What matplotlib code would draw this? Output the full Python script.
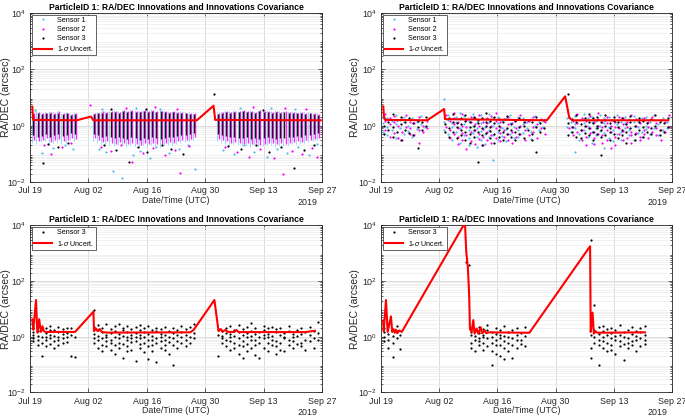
import numpy as np
import matplotlib.pyplot as plt
from matplotlib.ticker import LogLocator, NullFormatter

plt.rcParams['font.family'] = ['Liberation Sans', 'DejaVu Sans']
plt.rcParams['mathtext.fontset'] = 'custom'
plt.rcParams['mathtext.rm'] = 'Liberation Sans'
plt.rcParams['mathtext.it'] = 'Liberation Sans:italic'

# x axis: days since 2019-07-19 00:00 UTC
tick_days = [0, 14, 28, 42, 56, 70]
tick_labels = ['Jul 19', 'Aug 02', 'Aug 16', 'Aug 30', 'Sep 13', 'Sep 27']
title = 'ParticleID 1: RA/DEC Innovations and Innovations Covariance'
sensor_names = ['Sensor 1', 'Sensor 2', 'Sensor 3']
sensor_colors = ['#4DBEEE', '#FF00FF', 'black']
sensor_dt = [-0.25, 0.25, 0.0]  # time of each sensor's pass within the night (days)

# nightly passes (days)
days_a = [0.8, 1.8, 2.8, 3.8, 4.8, 5.8, 6.8, 7.8, 8.8, 9.8, 10.8]
days_b = [15.3, 16.3, 17.3, 18.3, 19.3, 20.3, 21.3, 22.3, 23.3, 24.3, 25.3, 26.3, 27.3,
          28.3, 29.3, 30.3, 31.3, 32.3, 33.3, 34.3, 35.3, 36.3, 37.3, 38.3, 39.3]
days_c = [45.0, 46.0, 47.0, 48.0, 49.0, 50.0, 51.0, 52.0, 53.0, 54.0, 55.0, 56.0, 57.0,
          58.0, 59.0, 60.0, 61.0, 62.0, 63.0, 64.0, 65.0, 66.0, 67.0, 68.0, 69.0]
pass_days = days_a + days_b + days_c

# ---- panel 1: dense passes, per-pass spread (low/high) for each sensor ----
p1_lo = [
    [0.25, 0.22, 0.26, 0.28, 0.21, 0.24, 0.27, 0.23, 0.25, 0.3, 0.28,
     0.28, 0.25, 0.22, 0.23, 0.2, 0.19, 0.21, 0.2, 0.18, 0.2, 0.19, 0.17, 0.2, 0.18, 0.2,
     0.19, 0.18, 0.2, 0.21, 0.2, 0.23, 0.25, 0.26, 0.28, 0.3,
     0.28, 0.25, 0.23, 0.2, 0.22, 0.2, 0.19, 0.21, 0.18, 0.2, 0.17, 0.19, 0.21, 0.2, 0.18,
     0.21, 0.19, 0.21, 0.22, 0.23, 0.22, 0.25, 0.26, 0.28, 0.3],
    [0.3, 0.28, 0.32, 0.35, 0.27, 0.3, 0.33, 0.29, 0.31, 0.36, 0.34,
     0.35, 0.3, 0.27, 0.28, 0.25, 0.23, 0.26, 0.24, 0.22, 0.25, 0.23, 0.21, 0.24, 0.22, 0.25,
     0.23, 0.22, 0.24, 0.26, 0.25, 0.28, 0.3, 0.32, 0.34, 0.38,
     0.34, 0.3, 0.28, 0.25, 0.27, 0.24, 0.23, 0.25, 0.22, 0.24, 0.21, 0.23, 0.25, 0.24, 0.22,
     0.25, 0.23, 0.25, 0.27, 0.28, 0.27, 0.3, 0.32, 0.34, 0.37],
    [0.45, 0.4, 0.42, 0.5, 0.38, 0.45, 0.5, 0.42, 0.48, 0.55, 0.5,
     0.5, 0.45, 0.4, 0.42, 0.38, 0.35, 0.4, 0.36, 0.33, 0.38, 0.35, 0.32, 0.36, 0.34, 0.38,
     0.35, 0.33, 0.37, 0.4, 0.38, 0.42, 0.45, 0.48, 0.5, 0.55,
     0.5, 0.45, 0.42, 0.38, 0.4, 0.36, 0.35, 0.38, 0.34, 0.36, 0.33, 0.35, 0.38, 0.36, 0.34,
     0.37, 0.35, 0.38, 0.4, 0.42, 0.4, 0.45, 0.48, 0.5, 0.55],
]
p1_hi = [
    [3.0, 3.3, 2.9, 3.1, 3.2, 3.0, 3.4, 2.9, 3.1, 2.8, 3.0,
     2.9, 3.1, 3.4, 3.2, 3.5, 3.6, 3.3, 3.7, 3.5, 3.8, 3.6, 3.4, 3.7, 3.5, 3.9,
     3.4, 3.6, 3.5, 3.3, 3.4, 3.2, 3.3, 3.1, 3.0, 2.9,
     3.0, 3.2, 3.5, 3.3, 3.6, 3.4, 3.7, 3.4, 3.6, 3.3, 3.7, 3.4, 3.6, 3.3, 3.5,
     3.2, 3.4, 3.3, 3.2, 3.1, 3.3, 3.0, 3.1, 2.9, 2.8],
    [2.8, 3.1, 2.7, 2.9, 3.0, 2.8, 3.2, 2.7, 2.9, 2.6, 2.8,
     2.7, 2.9, 3.2, 3.0, 3.3, 3.4, 3.1, 3.5, 3.3, 3.6, 3.4, 3.2, 3.5, 3.3, 3.7,
     3.2, 3.4, 3.3, 3.1, 3.2, 3.0, 3.1, 2.9, 2.8, 2.7,
     2.8, 3.0, 3.3, 3.1, 3.4, 3.2, 3.5, 3.2, 3.4, 3.1, 3.5, 3.2, 3.4, 3.1, 3.3,
     3.0, 3.2, 3.1, 3.0, 2.9, 3.1, 2.8, 2.9, 2.7, 2.6],
    [2.6, 2.9, 2.5, 2.7, 2.8, 2.6, 2.9, 2.5, 2.7, 2.4, 2.6,
     2.5, 2.7, 2.9, 2.8, 3.0, 3.1, 2.9, 3.2, 3.0, 3.3, 3.1, 3.0, 3.2, 3.1, 3.4,
     3.0, 3.2, 3.1, 2.9, 3.0, 2.8, 2.9, 2.7, 2.6, 2.5,
     2.6, 2.8, 3.0, 2.9, 3.1, 3.0, 3.2, 3.0, 3.1, 2.9, 3.2, 3.0, 3.1, 2.9, 3.0,
     2.8, 3.0, 2.9, 2.8, 2.7, 2.9, 2.6, 2.7, 2.5, 2.4],
]
# scattered points outside the dense part of the passes (day, value)
p1_out = [
    [(2.8, 0.11), (5.5, 0.16), (8.3, 0.2), (10.2, 0.15), (1.3, 3.6), (16.5, 0.15), (18.2, 0.12),
     (20.0, 0.024), (22.0, 0.014), (24.8, 0.09), (26.3, 0.13), (28.7, 0.07), (30.1, 0.18),
     (33.4, 0.11), (35.6, 0.15), (37.9, 0.2), (39.5, 0.028), (17.3, 4.0), (25.5, 4.2),
     (31.2, 3.9), (46.3, 0.14), (48.9, 0.1), (51.2, 0.2), (53.7, 0.12), (56.8, 0.08),
     (59.1, 0.15), (61.6, 0.11), (64.3, 0.18), (66.9, 0.09), (68.7, 0.22), (50.3, 4.1),
     (57.7, 4.3), (63.5, 3.8)],
    [(3.4, 0.2), (5.0, 0.1), (7.6, 0.18), (9.9, 0.25), (14.5, 5.5), (16.9, 0.17), (19.4, 0.13),
     (21.8, 0.2), (24.4, 0.05), (27.2, 0.11), (29.5, 0.16), (32.3, 0.09), (34.8, 0.14),
     (36.0, 0.021), (38.2, 0.19), (23.1, 4.4), (29.9, 4.6), (35.3, 4.0), (46.8, 0.17),
     (49.6, 0.12), (52.4, 0.08), (55.2, 0.15), (58.4, 0.07), (60.7, 0.02), (62.9, 0.13),
     (65.3, 0.1), (67.5, 0.16), (68.8, 0.08), (53.5, 4.5), (61.2, 4.2), (66.1, 3.9)],
    [(3.2, 0.047), (4.4, 0.22), (6.6, 0.17), (9.1, 0.24), (17.8, 0.2), (20.6, 0.14),
     (23.7, 0.053), (25.9, 0.17), (28.1, 0.12), (31.6, 0.21), (33.9, 0.15), (36.7, 0.1),
     (44.0, 13.6), (47.5, 0.19), (50.6, 0.15), (54.1, 0.2), (57.3, 0.12), (60.2, 0.17),
     (63.2, 0.032), (65.8, 0.14), (68.1, 0.2), (19.5, 3.8), (27.7, 4.0), (55.9, 3.7)],
]
p1_sig_t = [0.55, 0.75, 11.2, 14.6, 15.2, 40.0, 44.0, 44.4, 69.7]
p1_sig = [4.7, 1.6, 1.55, 2.1, 1.55, 1.55, 5.1, 1.6, 1.55]

# ---- panel 2: values per pass for each sensor ----
p2_vals = [
    [[1.2, 0.6, 2.1], [0.9, 1.8, 0.45], [1.5, 0.7], [2.4, 1.1, 0.35], [0.8, 1.6], [1.3, 0.5, 2.0],
     [1.0, 0.65], [1.9, 0.4], [0.75, 1.4], [1.1, 2.2], [0.9],
     [8.8, 1.3, 0.7], [1.6, 0.5, 2.3], [0.9, 1.2, 0.3], [2.0, 0.6, 1.4], [0.8, 0.25, 1.7, 2.8],
     [1.1, 0.45, 2.2], [0.7, 1.5, 0.35, 0.2], [1.9, 0.55, 1.0, 2.6], [0.4, 1.3, 0.18, 0.8],
     [2.3, 0.65, 1.2, 0.3], [0.9, 0.5, 1.7, 0.22], [1.4, 0.38, 2.5, 0.7], [0.06, 1.0, 0.45, 1.8],
     [0.6, 2.1, 0.3, 1.2], [1.5, 0.42, 0.85], [0.75, 1.9, 0.28], [1.2, 0.5, 2.4], [0.9, 0.35, 1.6],
     [2.0, 0.7, 0.4], [1.1, 0.55, 1.8], [0.8, 1.4], [1.7, 0.6, 0.33], [1.0, 2.2], [0.7, 1.3],
     [1.5, 0.9],
     [1.8, 0.9], [1.4, 0.6], [0.12, 2.2, 0.8, 1.1], [0.5, 1.6, 0.3], [1.2, 0.7, 2.5],
     [0.4, 1.9, 0.95], [1.3, 0.25, 0.6, 2.1], [0.8, 1.5, 0.45], [2.4, 0.65, 1.0],
     [0.16, 1.2, 0.55, 1.8], [0.9, 0.35, 2.0], [1.6, 0.7, 0.28], [1.1, 2.3, 0.5], [0.6, 1.4, 0.32],
     [2.0, 0.85, 1.2], [0.45, 1.7, 0.7], [1.3, 0.3, 2.2], [0.9, 1.5, 0.55], [1.8, 0.6, 0.4],
     [1.0, 2.1, 0.75], [0.5, 1.3], [1.6, 0.8, 2.4], [1.1, 0.45], [1.9, 0.7], [0.85, 1.4]],
    [[0.7, 1.5, 2.6], [1.1, 0.4, 1.9], [0.55, 2.2, 1.3], [0.35, 1.0], [1.7, 0.6, 0.3], [0.9, 2.3],
     [0.5, 1.4, 0.8], [1.2, 0.45], [2.0, 0.7, 0.25], [1.0, 0.6], [1.5, 0.8],
     [2.4, 0.9], [0.7, 1.5, 0.35], [1.8, 0.5, 1.1, 2.9], [0.4, 1.3, 0.8, 0.22],
     [1.0, 2.6, 0.55, 0.3], [0.45, 1.6, 0.9, 0.15], [2.1, 0.6, 0.28, 1.3], [0.23, 1.1, 0.7, 1.9],
     [0.5, 2.4, 0.33, 1.0], [1.4, 0.4, 0.75, 0.2], [0.6, 1.8, 0.3, 1.2], [1.0, 0.45, 2.2, 0.25],
     [0.35, 1.5, 0.8, 2.7], [0.9, 0.28, 1.3, 0.55], [1.7, 0.4, 0.7], [0.5, 2.0, 0.32, 1.1],
     [1.2, 0.6, 0.25], [0.4, 1.6, 0.85], [2.3, 0.5, 1.0], [0.7, 1.3, 0.3], [1.5, 0.45],
     [0.6, 2.0, 0.9], [1.1, 0.35], [0.8, 1.7], [1.3, 0.5],
     [0.8, 2.0], [1.5, 0.45, 0.9], [0.6, 1.2, 2.6], [0.3, 1.8, 0.7], [1.0, 0.4, 1.5, 0.2],
     [2.2, 0.55, 0.85], [0.35, 1.3, 0.6, 0.22], [1.7, 0.5, 1.0, 2.8], [0.45, 0.9, 0.25, 1.4],
     [1.2, 0.3, 2.1, 0.7], [0.16, 0.6, 1.6, 1.0], [0.9, 0.4, 1.3, 0.2], [2.0, 0.5, 0.8],
     [0.3, 1.1, 0.65, 1.9], [1.4, 0.35, 0.9], [0.6, 2.3, 0.45, 0.25], [1.0, 0.55, 1.7],
     [0.4, 1.2, 0.3], [1.8, 0.7, 0.5], [0.9, 1.4, 0.35], [0.6, 2.0], [1.2, 0.45, 0.8],
     [0.7, 1.6, 0.3], [1.4, 0.6], [2.4, 0.9]],
    [[1.0, 1.9, 0.5], [1.4, 0.7], [0.9, 2.5, 0.4], [1.6, 0.6], [1.1, 0.3, 2.0], [0.7, 1.3],
     [1.8, 0.55], [0.45, 1.2], [0.16, 0.9, 1.5], [1.3, 0.7], [2.0, 1.0],
     [1.1, 0.6], [1.9, 0.8, 0.4], [0.6, 1.4, 2.5], [1.2, 0.35, 0.9], [0.7, 1.8, 0.45, 1.1],
     [1.5, 0.6, 0.3, 2.4], [0.9, 1.3, 0.5, 0.25], [1.0, 0.4, 2.0, 0.7], [0.05, 0.6, 1.6, 1.2],
     [1.9, 0.8, 0.45, 0.2], [0.55, 1.3, 1.0, 2.7], [0.9, 0.35, 1.5, 0.65], [1.2, 0.5, 0.25, 2.1],
     [0.7, 1.7, 0.4, 1.0], [1.4, 0.6, 0.3], [0.85, 2.2, 0.5], [1.1, 0.4, 0.7], [0.6, 1.5, 0.3],
     [1.8, 0.9, 0.5], [1.0, 0.35, 1.3], [0.7, 1.6], [1.3, 0.5, 0.3], [0.9, 2.0, 0.12],
     [0.6, 1.2], [1.6, 0.8],
     [13.0, 0.48, 1.2], [0.9, 1.7, 0.6], [1.3, 0.4, 2.3], [0.7, 1.1, 0.35], [1.9, 0.55, 1.0],
     [0.45, 1.4, 0.8, 2.6], [1.2, 0.3, 0.6, 1.8], [0.8, 2.1, 0.5, 1.0], [0.094, 1.3, 0.7, 0.4],
     [1.6, 0.45, 1.0, 2.4], [0.6, 1.2, 0.3, 0.85], [1.5, 0.5, 2.0], [0.9, 0.35, 1.3],
     [0.7, 1.8, 0.45], [1.1, 0.6, 0.25], [2.2, 0.8, 1.4], [0.5, 1.0, 0.3], [1.3, 0.7, 1.9],
     [0.9, 0.4, 1.5], [0.6, 1.2], [1.7, 0.8, 0.5], [1.0, 2.3], [0.7, 1.4, 0.45], [1.2, 0.6],
     [0.9, 1.8]],
]
p2_sig_t = [0.55, 0.7, 1.0, 11.1, 15.2, 15.4, 39.9, 44.3, 45.3, 46.0, 69.1]
p2_sig = [4.8, 2.1, 1.6, 1.55, 3.9, 1.7, 1.55, 11.0, 1.9, 1.55, 1.55]

# ---- panel 3: sensor 3 only ----
p3_vals = [
    [1.2, 0.7, 2.0, 0.9, 1.5], [0.8, 1.6, 0.5, 2.3, 1.1], [0.21, 1.0, 1.9, 0.6],
    [1.4, 0.75, 2.1, 0.45, 1.0], [0.9, 1.7, 0.55, 1.2, 2.4], [1.1, 0.4, 1.8, 0.7],
    [1.5, 0.8, 2.2, 0.5, 1.0], [0.6, 1.3, 1.9, 0.9], [2.1, 1.0, 0.65, 1.4], [0.2, 1.2, 2.0],
    [0.19, 1.0],
    [9.2, 1.3, 0.6, 2.2, 0.9], [0.8, 1.7, 0.4, 1.1, 2.6], [1.5, 0.5, 0.9, 2.0, 0.3],
    [0.7, 1.2, 2.8, 0.45, 1.0], [1.9, 0.35, 0.8, 1.4, 0.6], [1.0, 2.4, 0.5, 1.6, 0.25],
    [0.6, 1.3, 0.9, 3.0, 0.4], [1.7, 0.17, 1.1, 0.55, 2.1], [0.45, 1.5, 0.8, 2.5, 1.0, 0.3],
    [1.2, 0.65, 1.9, 0.35, 0.9], [0.13, 1.4, 0.7, 2.2, 1.0], [0.9, 1.8, 0.4, 1.2, 0.55, 2.7],
    [1.5, 0.6, 0.28, 1.0, 2.0], [0.75, 1.3, 2.4, 0.45, 0.16], [1.1, 0.5, 1.7, 0.8, 0.3],
    [0.12, 1.6, 0.9, 2.1, 0.6], [1.3, 0.4, 0.7, 1.9, 1.0], [0.8, 2.3, 0.5, 1.2, 0.35],
    [1.6, 0.65, 1.0, 0.25], [0.1, 0.9, 1.4, 0.5, 2.0], [1.2, 0.7, 1.8, 0.4],
    [0.6, 1.5, 1.0, 2.4], [1.9, 0.8, 0.45, 1.2], [1.0, 2.2, 0.6], [1.4, 2.9, 0.9],
    [0.2, 1.2, 1.9], [0.9, 1.6, 0.6, 1.1], [1.4, 0.45, 2.1, 0.8], [0.7, 1.3, 0.35, 1.0, 2.4],
    [1.8, 0.6, 1.1, 0.4], [0.5, 1.5, 0.25, 0.9, 2.6], [0.17, 1.2, 0.7, 1.9, 0.45],
    [1.0, 2.2, 0.55, 1.4, 0.3], [0.8, 1.6, 0.4, 3.2, 1.1], [1.3, 0.5, 2.0, 0.75, 0.22],
    [0.17, 1.0, 1.5, 0.6], [1.7, 0.4, 0.9, 2.5, 1.2], [0.6, 1.3, 0.3, 1.0, 2.0],
    [1.1, 2.3, 0.5, 0.8], [0.45, 1.5, 0.25, 1.9, 0.7], [1.2, 0.6, 2.1, 0.35], [0.9, 1.4, 0.3, 1.0],
    [1.6, 0.5, 0.8, 2.4], [1.0, 0.4, 1.3, 0.7], [0.55, 1.8, 1.1], [1.3, 0.6, 2.0, 0.45],
    [0.8, 1.5, 0.35], [1.2, 2.2, 0.7], [0.9, 0.4, 1.6], [3.5, 0.8, 1.4],
]
p3_sig_t = [0.55, 0.8, 1.44, 1.76, 2.2, 2.6, 3.0, 3.3, 3.7, 10.8, 15.2, 15.35, 15.8, 16.2,
            16.7, 17.2, 17.8, 18.5, 38.4, 39.2, 44.2, 45.2, 45.7, 46.2, 46.8, 47.5, 49.0,
            49.5, 50.0, 66.0, 68.3]
p3_sig = [4.2, 1.8, 21, 1.4, 4.3, 1.5, 2.4, 1.6, 1.5, 1.5, 8.0, 1.6, 2.0, 1.6, 1.9, 1.5,
          1.45, 1.42, 1.45, 1.75, 21, 1.6, 1.9, 1.55, 1.75, 1.5, 1.5, 1.75, 1.48, 1.48, 1.65]

# ---- panel 4: sensor 3 only, long gaps ----
p4_days = [0.8, 1.8, 2.8, 3.8, 4.6, 20.45, 21.2,
           21.6, 22.6, 23.6, 24.6, 25.6, 26.6, 27.6, 28.6, 29.6, 30.6, 31.6, 32.6, 33.6, 34.6,
           50.4, 51.3, 52.4, 53.4, 54.4, 55.4, 56.4, 57.4, 58.4, 59.4, 60.4, 61.4, 62.4, 63.4]
p4_vals = [
    [1.0, 2.1, 0.7, 1.5], [1.3, 0.4, 2.8, 0.8], [0.19, 1.1, 1.8, 0.6], [1.6, 0.9, 2.4], [0.37, 1.2],
    [470], [390],
    [1.2, 0.6, 2.0, 0.4, 1.5], [0.8, 1.6, 0.3, 1.1], [1.4, 0.5, 2.3, 0.9, 0.7],
    [0.6, 1.2, 0.35, 1.9, 1.0], [1.7, 0.45, 0.9, 2.6], [0.1, 1.0, 0.6, 1.5, 0.3],
    [1.3, 0.25, 2.1, 0.8, 0.5], [0.5, 1.8, 0.9, 1.2, 0.2], [0.16, 1.1, 0.4, 2.4, 0.7],
    [1.5, 0.6, 0.3, 1.0], [0.17, 0.9, 1.7, 0.5], [1.2, 0.4, 2.0, 0.75], [0.8, 1.4, 0.55],
    [1.1, 0.45, 2.2],
    [3000, 0.17, 0.4, 1.2], [13.6, 1.0, 0.6, 1.8], [0.1, 1.3, 0.5, 2.2, 0.8],
    [1.6, 0.4, 1.0, 0.7, 2.5], [0.6, 1.2, 0.3, 1.9], [1.4, 0.5, 0.9, 2.1, 0.35],
    [0.8, 1.7, 0.25, 1.1], [1.2, 0.45, 2.6, 0.7], [0.15, 1.0, 1.5, 0.55], [1.8, 0.6, 0.9, 0.4],
    [0.7, 1.3, 2.3, 0.5], [0.3, 1.1, 1.6, 0.8], [1.5, 0.45, 2.0, 0.9], [0.55, 1.2, 2.4, 0.75],
]
p4_sig_t = [0.5, 0.65, 1.2, 1.6, 2.4, 2.7, 3.0, 3.3, 3.6, 3.9, 4.4, 5.0, 20.2, 20.5, 20.9,
            21.2, 21.4, 21.8, 22.2, 22.5, 23.0, 23.4, 24.0, 24.3, 25.0, 25.3, 26.0, 35.7,
            50.3, 50.45, 50.9, 51.2, 51.6, 52.0, 63.5]
p4_sig = [3.8, 1.6, 21, 1.5, 5.4, 1.5, 1.9, 1.4, 1.8, 1.35, 1.7, 1.5, 12500, 1200, 300,
          35, 1.9, 1.5, 4.0, 1.3, 2.0, 1.3, 2.2, 1.35, 1.7, 1.35, 1.45, 1.4,
          1800, 1.5, 7.4, 1.3, 1.6, 1.4, 1.45]


def flatten(days, groups, dt=0.0):
    xs, ys = [], []
    for d, vals in zip(days, groups):
        xs += [d + dt] * len(vals)
        ys += vals
    return xs, ys


def style_axes(ax, ylab_x):
    ax.set_yscale('log')
    ax.set_xlim(0, 70)
    ax.set_ylim(1e-2, 1e4)
    ax.set_xticks(tick_days)
    ax.set_xticklabels(tick_labels)
    ax.set_yticks([1e-2, 1e0, 1e2, 1e4])
    ax.yaxis.set_minor_locator(LogLocator(base=10, subs=np.arange(2, 10)))
    ax.yaxis.set_minor_formatter(NullFormatter())
    ax.set_axisbelow(True)
    ax.grid(True, which='major', color='#d6d6d6', lw=0.6)
    ax.grid(True, which='minor', axis='y', color='#ececec', lw=0.5)
    for s in ax.spines.values():
        s.set_color('#262626')
        s.set_linewidth(0.6)
    ax.tick_params(which='both', direction='in', top=True, right=True, colors='#262626',
                   labelsize=6.4, width=0.5, pad=3)
    ax.tick_params(which='major', length=3)
    ax.tick_params(which='minor', length=1.5)
    ax.set_title(title, fontsize=6.2, fontweight='bold', pad=2.5, color='black')
    ax.set_xlabel('Date/Time (UTC)', fontsize=6.4, labelpad=0.5, color='#262626')
    ax.set_ylabel('RA/DEC (arcsec)', fontsize=7.5, color='#262626', va='center')
    ax.yaxis.set_label_coords(ylab_x, 0.5)
    ax.annotate('2019', xy=(1, 0), xycoords='axes fraction', xytext=(-3.5, -14.5),
                textcoords='offset points', ha='right', va='center', fontsize=6.4,
                color='#262626')
    leg = ax.legend(loc='upper left', fontsize=5.1, frameon=True, fancybox=False,
                    edgecolor='#262626', framealpha=1, borderaxespad=0.25, handlelength=2.6,
                    labelspacing=0.3, borderpad=0.3, handletextpad=0.6, numpoints=1)
    leg.get_frame().set_linewidth(0.5)


fig = plt.figure(figsize=(6.85, 4.2), dpi=100)
ax1 = fig.add_axes([0.0438, 0.5667, 0.4263, 0.4024])
ax2 = fig.add_axes([0.5562, 0.5667, 0.4248, 0.4024])
ax3 = fig.add_axes([0.0438, 0.0655, 0.4263, 0.3976])
ax4 = fig.add_axes([0.5562, 0.0655, 0.4248, 0.3976])

ms = 3.2
dot = dict(ls='none', marker='.', ms=ms, mew=0)
# panel 1
p1_lw = [0.7, 1.0, 1.0]
p1_alpha = [0.55, 0.85, 0.9]
for k in range(3):
    xs = [d + sensor_dt[k] for d in pass_days]
    ax1.vlines(xs, p1_lo[k], p1_hi[k], color=sensor_colors[k], lw=p1_lw[k],
               alpha=p1_alpha[k], zorder=2)
for k in range(3):
    ox = [p[0] for p in p1_out[k]]
    oy = [p[1] for p in p1_out[k]]
    ax1.plot(ox, oy, color=sensor_colors[k], label=sensor_names[k], zorder=3, **dot)
ax1.plot(p1_sig_t, p1_sig, color='red', lw=1.5, label='1-$\\sigma$ Uncert.', zorder=4)

# panel 2
for k in range(3):
    xs, ys = flatten(pass_days, p2_vals[k], sensor_dt[k])
    ax2.plot(xs, ys, color=sensor_colors[k], label=sensor_names[k], zorder=3, **dot)
ax2.plot(p2_sig_t, p2_sig, color='red', lw=1.5, label='1-$\\sigma$ Uncert.', zorder=4)

# panel 3
xs, ys = flatten(pass_days, p3_vals)
ax3.plot(xs, ys, color='black', label='Sensor 3', zorder=3, **dot)
ax3.plot(p3_sig_t, p3_sig, color='red', lw=1.5, label='1-$\\sigma$ Uncert.', zorder=4)

# panel 4
xs, ys = flatten(p4_days, p4_vals)
ax4.plot(xs, ys, color='black', label='Sensor 3', zorder=3, **dot)
ax4.plot(p4_sig_t, p4_sig, color='red', lw=1.5, label='1-$\\sigma$ Uncert.', zorder=4)

style_axes(ax1, -0.082)
style_axes(ax2, -0.088)
style_axes(ax3, -0.082)
style_axes(ax4, -0.088)

fig.savefig('out.png', dpi=100, facecolor='white')
